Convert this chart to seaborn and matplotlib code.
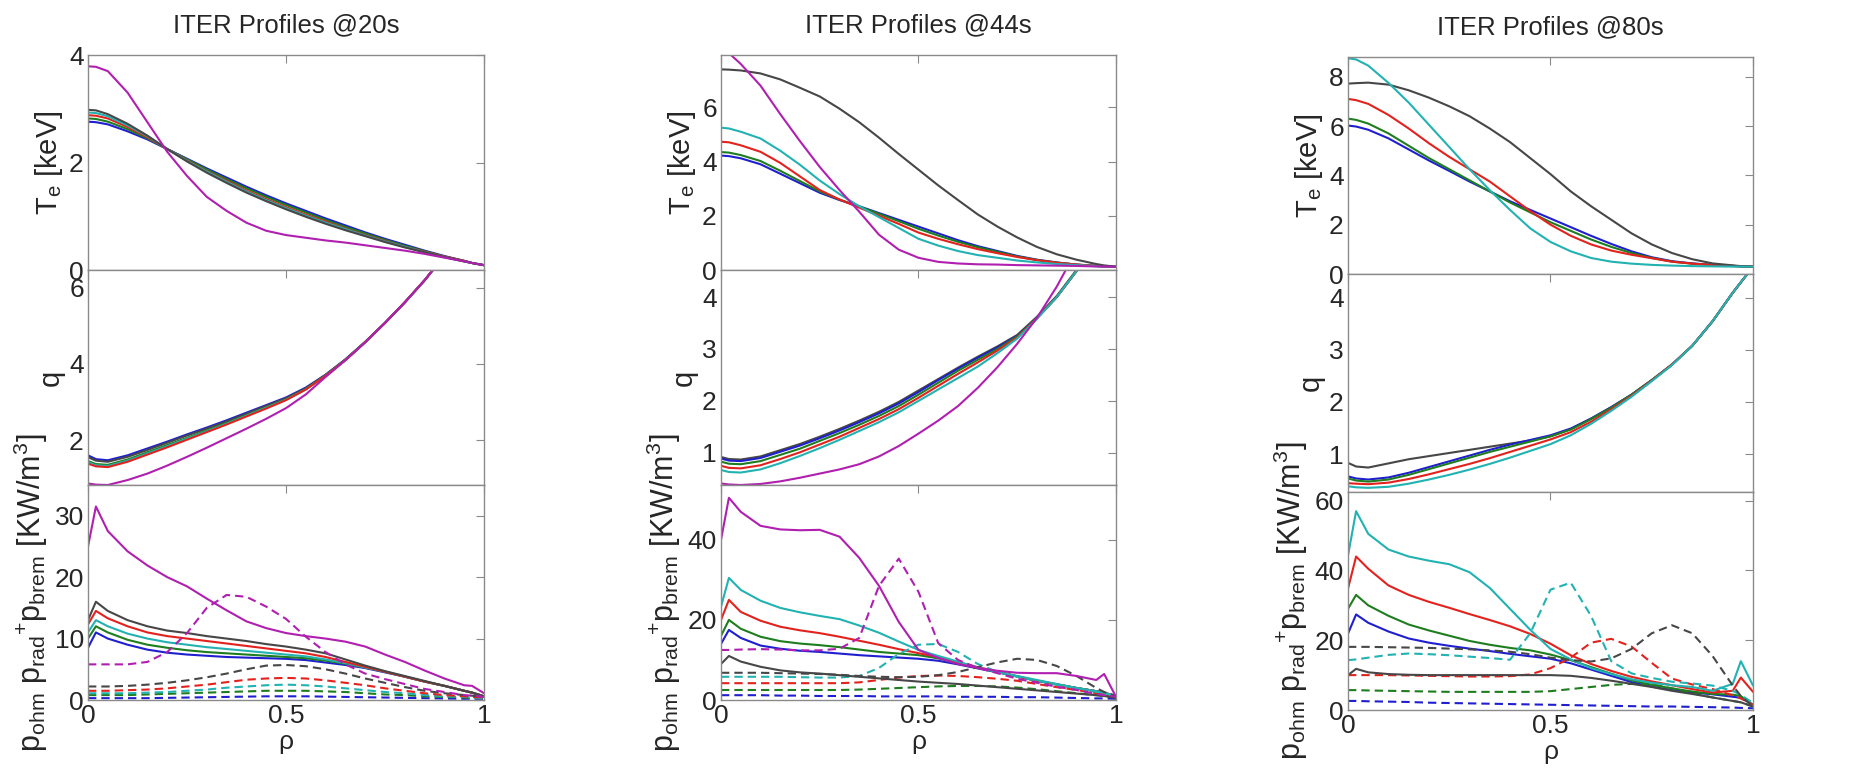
import matplotlib
matplotlib.use("Agg")
import matplotlib.pyplot as plt
import pandas as pd
import seaborn as sns

# ---------------- data ----------------
RHO = [0, 0.02, 0.05, 0.1, 0.15, 0.2, 0.25, 0.3, 0.35, 0.4, 0.45, 0.5,
       0.55, 0.6, 0.65, 0.7, 0.75, 0.8, 0.85, 0.9, 0.95, 0.97, 1.0]
TIMES = ["20s", "44s", "80s"]

# ---- 20 s ----
te_20 = {
    "blue":    [2.76, 2.75, 2.71, 2.58, 2.43, 2.25, 2.07, 1.89, 1.72, 1.55, 1.39, 1.24, 1.10, 0.96, 0.83, 0.70, 0.58, 0.47, 0.36, 0.26, 0.17, 0.13, 0.09],
    "green":   [2.82, 2.81, 2.76, 2.62, 2.45, 2.25, 2.06, 1.87, 1.69, 1.52, 1.36, 1.21, 1.07, 0.93, 0.80, 0.68, 0.56, 0.45, 0.35, 0.25, 0.17, 0.13, 0.09],
    "red":     [2.88, 2.87, 2.82, 2.66, 2.47, 2.25, 2.04, 1.84, 1.66, 1.48, 1.32, 1.17, 1.03, 0.90, 0.77, 0.65, 0.54, 0.43, 0.34, 0.25, 0.17, 0.13, 0.09],
    "cyan":    [2.93, 2.92, 2.86, 2.69, 2.49, 2.25, 2.03, 1.83, 1.64, 1.46, 1.30, 1.15, 1.01, 0.88, 0.76, 0.64, 0.53, 0.43, 0.33, 0.24, 0.16, 0.13, 0.09],
    "black":   [2.98, 2.97, 2.90, 2.72, 2.50, 2.25, 2.02, 1.81, 1.62, 1.44, 1.28, 1.13, 0.99, 0.86, 0.74, 0.63, 0.52, 0.42, 0.33, 0.24, 0.16, 0.13, 0.09],
    "magenta": [3.79, 3.78, 3.70, 3.30, 2.75, 2.20, 1.75, 1.36, 1.10, 0.88, 0.73, 0.65, 0.60, 0.55, 0.51, 0.46, 0.41, 0.36, 0.30, 0.23, 0.16, 0.13, 0.09],
}
q_20 = {
    "blue":    [1.60, 1.50, 1.47, 1.60, 1.78, 1.96, 2.15, 2.33, 2.52, 2.72, 2.92, 3.12, 3.38, 3.72, 4.12, 4.58, 5.08, 5.62, 6.20, 6.85, 7.60, 7.90, 8.40],
    "black":   [1.55, 1.46, 1.43, 1.56, 1.74, 1.93, 2.12, 2.30, 2.49, 2.69, 2.90, 3.10, 3.36, 3.71, 4.12, 4.58, 5.08, 5.62, 6.20, 6.85, 7.60, 7.90, 8.40],
    "green":   [1.45, 1.37, 1.35, 1.49, 1.68, 1.87, 2.06, 2.25, 2.45, 2.65, 2.86, 3.07, 3.34, 3.70, 4.11, 4.58, 5.08, 5.62, 6.20, 6.85, 7.60, 7.90, 8.40],
    "cyan":    [1.42, 1.34, 1.32, 1.46, 1.65, 1.84, 2.04, 2.23, 2.43, 2.64, 2.85, 3.06, 3.33, 3.69, 4.10, 4.57, 5.08, 5.62, 6.20, 6.85, 7.60, 7.90, 8.40],
    "red":     [1.38, 1.31, 1.29, 1.43, 1.62, 1.81, 2.01, 2.21, 2.41, 2.62, 2.83, 3.05, 3.33, 3.69, 4.10, 4.57, 5.08, 5.62, 6.20, 6.85, 7.60, 7.90, 8.40],
    "magenta": [0.86, 0.83, 0.82, 0.95, 1.12, 1.33, 1.56, 1.80, 2.05, 2.30, 2.56, 2.84, 3.20, 3.66, 4.10, 4.57, 5.08, 5.62, 6.20, 6.85, 7.60, 7.90, 8.40],
}
ps_20 = {  # solid: p_ohm
    "blue":    [8.5, 11.0, 10.0, 9.0, 8.2, 7.7, 7.4, 7.2, 7.0, 6.9, 6.8, 6.7, 6.5, 6.1, 5.7, 5.2, 4.5, 3.8, 3.0, 2.3, 1.5, 1.2, 0.6],
    "green":   [10.0, 12.0, 11.0, 9.8, 9.0, 8.5, 8.1, 7.8, 7.6, 7.4, 7.2, 7.0, 6.8, 6.4, 5.9, 5.3, 4.6, 3.8, 3.0, 2.3, 1.5, 1.2, 0.6],
    "cyan":    [11.0, 13.0, 12.0, 10.8, 10.0, 9.4, 9.0, 8.6, 8.3, 8.0, 7.7, 7.4, 7.1, 6.6, 6.0, 5.3, 4.6, 3.8, 3.0, 2.3, 1.5, 1.2, 0.6],
    "red":     [12.3, 14.5, 13.3, 12.0, 11.0, 10.4, 10.0, 9.6, 9.2, 8.8, 8.4, 8.0, 7.6, 7.0, 6.2, 5.4, 4.6, 3.8, 3.0, 2.3, 1.5, 1.2, 0.6],
    "black":   [13.0, 16.0, 14.5, 13.0, 12.0, 11.3, 10.9, 10.4, 10.0, 9.6, 9.1, 8.7, 8.2, 7.6, 6.6, 5.6, 4.7, 3.9, 3.1, 2.3, 1.5, 1.2, 0.6],
    "magenta": [25.0, 31.5, 27.5, 24.2, 21.9, 20.0, 18.5, 16.5, 14.6, 12.8, 11.7, 10.9, 10.4, 10.0, 9.5, 8.7, 7.4, 6.2, 4.8, 3.5, 2.4, 2.3, 1.1],
}
pd_20 = {  # dashed: p_rad + p_brem
    "blue":    [0.3, 0.3, 0.3, 0.3, 0.3, 0.35, 0.4, 0.45, 0.5, 0.55, 0.6, 0.6, 0.6, 0.55, 0.5, 0.45, 0.4, 0.35, 0.3, 0.25, 0.2, 0.2, 0.2],
    "green":   [0.8, 0.8, 0.8, 0.8, 0.9, 1.0, 1.1, 1.2, 1.3, 1.4, 1.5, 1.5, 1.5, 1.4, 1.3, 1.1, 0.9, 0.8, 0.6, 0.5, 0.4, 0.3, 0.3],
    "cyan":    [1.1, 1.1, 1.1, 1.1, 1.2, 1.3, 1.5, 1.7, 2.0, 2.2, 2.4, 2.5, 2.4, 2.2, 1.9, 1.6, 1.3, 1.1, 0.8, 0.6, 0.5, 0.4, 0.3],
    "red":     [1.5, 1.5, 1.5, 1.6, 1.7, 1.9, 2.2, 2.5, 2.9, 3.3, 3.5, 3.6, 3.5, 3.2, 2.8, 2.4, 1.9, 1.5, 1.1, 0.8, 0.6, 0.5, 0.4],
    "black":   [2.2, 2.2, 2.2, 2.3, 2.5, 2.8, 3.2, 3.7, 4.3, 5.0, 5.6, 5.7, 5.5, 5.0, 4.3, 3.5, 2.8, 2.1, 1.5, 1.1, 0.8, 0.7, 0.5],
    "magenta": [5.8, 5.8, 5.8, 5.8, 6.2, 7.8, 10.9, 15.0, 17.1, 16.8, 15.2, 13.2, 10.3, 7.8, 5.8, 4.3, 3.4, 2.6, 1.8, 1.3, 0.8, 0.7, 0.5],
}

# ---- 44 s ----
te_44 = {
    "blue":    [4.22, 4.20, 4.12, 3.90, 3.55, 3.20, 2.85, 2.58, 2.35, 2.10, 1.85, 1.60, 1.35, 1.10, 0.88, 0.70, 0.52, 0.38, 0.28, 0.20, 0.15, 0.13, 0.12],
    "green":   [4.35, 4.33, 4.24, 4.02, 3.66, 3.28, 2.90, 2.60, 2.34, 2.07, 1.80, 1.52, 1.27, 1.04, 0.84, 0.67, 0.50, 0.37, 0.27, 0.20, 0.15, 0.13, 0.12],
    "red":     [4.73, 4.71, 4.60, 4.36, 3.95, 3.45, 2.95, 2.60, 2.30, 2.00, 1.70, 1.38, 1.15, 0.95, 0.77, 0.62, 0.48, 0.36, 0.27, 0.20, 0.15, 0.13, 0.12],
    "cyan":    [5.25, 5.22, 5.10, 4.85, 4.40, 3.88, 3.30, 2.80, 2.35, 1.95, 1.55, 1.15, 0.90, 0.70, 0.55, 0.45, 0.35, 0.28, 0.22, 0.18, 0.14, 0.13, 0.12],
    "black":   [7.40, 7.39, 7.36, 7.25, 7.03, 6.72, 6.40, 5.95, 5.45, 4.88, 4.28, 3.70, 3.12, 2.58, 2.05, 1.60, 1.20, 0.85, 0.58, 0.38, 0.22, 0.17, 0.12],
    "magenta": [8.25, 8.00, 7.60, 6.80, 5.75, 4.75, 3.80, 2.95, 2.15, 1.30, 0.75, 0.45, 0.30, 0.24, 0.21, 0.20, 0.18, 0.17, 0.16, 0.15, 0.13, 0.13, 0.12],
}
q_44 = {
    "black":   [0.92, 0.88, 0.87, 0.93, 1.05, 1.17, 1.31, 1.46, 1.62, 1.79, 1.98, 2.20, 2.42, 2.64, 2.85, 3.05, 3.27, 3.62, 4.02, 4.52, 5.10, 5.40, 5.80],
    "blue":    [0.89, 0.85, 0.84, 0.90, 1.02, 1.14, 1.28, 1.43, 1.59, 1.76, 1.95, 2.17, 2.40, 2.62, 2.83, 3.03, 3.25, 3.60, 4.00, 4.50, 5.10, 5.40, 5.80],
    "green":   [0.83, 0.79, 0.78, 0.84, 0.96, 1.08, 1.23, 1.38, 1.54, 1.71, 1.90, 2.12, 2.35, 2.58, 2.79, 3.00, 3.24, 3.60, 4.00, 4.50, 5.10, 5.40, 5.80],
    "red":     [0.75, 0.71, 0.70, 0.76, 0.88, 1.01, 1.16, 1.31, 1.48, 1.65, 1.84, 2.06, 2.29, 2.52, 2.74, 2.97, 3.22, 3.59, 4.00, 4.50, 5.10, 5.40, 5.80],
    "cyan":    [0.67, 0.63, 0.62, 0.68, 0.80, 0.94, 1.09, 1.25, 1.42, 1.59, 1.78, 2.00, 2.22, 2.44, 2.66, 2.92, 3.20, 3.58, 4.00, 4.50, 5.10, 5.40, 5.80],
    "magenta": [0.41, 0.39, 0.38, 0.40, 0.45, 0.52, 0.60, 0.68, 0.78, 0.93, 1.13, 1.37, 1.62, 1.90, 2.25, 2.65, 3.10, 3.60, 4.20, 4.90, 5.60, 5.90, 6.30],
}
ps_44 = {
    "black":   [9.0, 11.0, 9.6, 8.3, 7.4, 6.9, 6.6, 6.2, 5.8, 5.4, 5.0, 4.6, 4.3, 4.0, 3.6, 3.2, 2.8, 2.4, 2.0, 1.6, 1.2, 1.0, 0.5],
    "blue":    [14.0, 17.5, 15.5, 13.6, 12.8, 12.3, 12.0, 11.6, 11.2, 10.9, 10.6, 10.3, 9.8, 8.9, 7.9, 6.9, 5.9, 4.8, 3.9, 3.0, 2.2, 1.8, 1.0],
    "green":   [16.0, 20.0, 17.8, 15.8, 14.7, 14.1, 13.7, 13.2, 12.6, 12.0, 11.6, 11.2, 10.4, 9.2, 8.0, 7.0, 5.9, 4.8, 3.9, 3.0, 2.2, 1.8, 1.0],
    "red":     [20.0, 25.0, 22.0, 19.8, 18.3, 17.4, 16.7, 15.8, 14.8, 13.8, 12.7, 11.7, 10.7, 9.4, 8.2, 7.1, 5.9, 4.8, 3.9, 3.0, 2.2, 1.8, 1.0],
    "cyan":    [23.3, 30.5, 27.5, 24.8, 23.0, 21.9, 21.0, 20.2, 18.6, 16.8, 14.6, 12.5, 11.0, 9.6, 8.1, 7.0, 6.0, 5.0, 4.0, 3.0, 2.2, 1.8, 1.0],
    "magenta": [40.0, 50.5, 47.0, 43.5, 42.6, 42.4, 42.5, 40.8, 35.5, 28.5, 19.5, 12.5, 10.5, 9.0, 8.0, 7.3, 6.8, 6.7, 6.7, 6.0, 5.0, 6.5, 0.8],
}
pd_44 = {
    "blue":    [1.2, 1.2, 1.2, 1.2, 1.1, 1.1, 1.0, 1.0, 1.0, 0.9, 0.9, 0.9, 0.9, 0.8, 0.8, 0.8, 0.7, 0.7, 0.6, 0.5, 0.4, 0.4, 0.3],
    "green":   [2.5, 2.5, 2.5, 2.5, 2.5, 2.5, 2.5, 2.5, 2.6, 2.8, 3.0, 3.2, 3.4, 3.5, 3.5, 3.4, 3.1, 2.7, 2.2, 1.7, 1.2, 1.0, 0.6],
    "red":     [4.2, 4.2, 4.2, 4.2, 4.2, 4.2, 4.2, 4.2, 4.4, 5.0, 5.6, 6.0, 6.1, 6.0, 5.7, 5.3, 4.8, 4.0, 3.2, 2.5, 1.7, 1.3, 0.8],
    "cyan":    [5.8, 5.8, 5.8, 5.8, 5.8, 5.7, 5.6, 5.6, 6.0, 8.0, 11.5, 13.8, 14.0, 12.0, 9.0, 7.0, 5.8, 4.8, 3.8, 3.0, 2.0, 1.6, 1.0],
    "black":   [6.8, 6.8, 6.8, 6.8, 6.7, 6.6, 6.5, 6.3, 6.0, 5.8, 5.7, 5.8, 6.2, 7.0, 8.2, 9.4, 10.3, 10.0, 8.5, 6.0, 3.0, 2.0, 1.0],
    "magenta": [12.5, 12.5, 12.6, 12.7, 12.6, 12.4, 12.4, 12.8, 15.5, 28.5, 35.3, 27.0, 14.2, 10.0, 8.0, 6.7, 5.3, 4.3, 3.3, 2.5, 1.5, 1.2, 0.8],
}

# ---- 80 s ----
te_80 = {
    "blue":    [6.02, 5.98, 5.85, 5.50, 5.05, 4.60, 4.18, 3.75, 3.35, 2.95, 2.60, 2.25, 1.90, 1.55, 1.22, 0.92, 0.68, 0.52, 0.43, 0.37, 0.33, 0.31, 0.30],
    "green":   [6.30, 6.25, 6.10, 5.70, 5.20, 4.70, 4.25, 3.80, 3.35, 2.90, 2.50, 2.10, 1.75, 1.40, 1.10, 0.85, 0.65, 0.50, 0.42, 0.36, 0.32, 0.31, 0.30],
    "red":     [7.10, 7.05, 6.90, 6.45, 5.90, 5.30, 4.75, 4.25, 3.75, 3.15, 2.55, 2.00, 1.55, 1.20, 0.95, 0.78, 0.64, 0.50, 0.42, 0.37, 0.33, 0.31, 0.30],
    "black":   [7.72, 7.74, 7.76, 7.68, 7.45, 7.15, 6.80, 6.40, 5.90, 5.35, 4.70, 4.05, 3.35, 2.75, 2.20, 1.65, 1.20, 0.85, 0.60, 0.43, 0.35, 0.32, 0.30],
    "cyan":    [8.75, 8.70, 8.45, 7.75, 6.95, 6.05, 5.15, 4.25, 3.40, 2.60, 1.85, 1.30, 0.92, 0.65, 0.50, 0.42, 0.37, 0.34, 0.32, 0.31, 0.30, 0.30, 0.30],
}
q_80 = {
    "black":   [0.83, 0.76, 0.74, 0.82, 0.90, 0.96, 1.02, 1.08, 1.14, 1.20, 1.26, 1.34, 1.48, 1.68, 1.90, 2.14, 2.42, 2.72, 3.08, 3.55, 4.10, 4.30, 4.60],
    "blue":    [0.57, 0.53, 0.51, 0.55, 0.64, 0.75, 0.86, 0.97, 1.08, 1.18, 1.27, 1.36, 1.49, 1.68, 1.90, 2.14, 2.42, 2.72, 3.08, 3.55, 4.10, 4.30, 4.60],
    "green":   [0.53, 0.49, 0.47, 0.51, 0.60, 0.71, 0.82, 0.93, 1.04, 1.14, 1.24, 1.34, 1.47, 1.67, 1.89, 2.14, 2.42, 2.72, 3.08, 3.55, 4.10, 4.30, 4.60],
    "red":     [0.44, 0.43, 0.42, 0.45, 0.52, 0.61, 0.71, 0.81, 0.92, 1.04, 1.16, 1.28, 1.42, 1.62, 1.86, 2.12, 2.41, 2.72, 3.08, 3.55, 4.10, 4.30, 4.60],
    "cyan":    [0.38, 0.36, 0.35, 0.37, 0.43, 0.51, 0.60, 0.70, 0.81, 0.93, 1.06, 1.19, 1.36, 1.58, 1.83, 2.10, 2.40, 2.71, 3.08, 3.55, 4.10, 4.30, 4.60],
}
ps_80 = {
    "black":   [10.0, 11.8, 10.8, 10.3, 10.1, 10.0, 10.0, 10.0, 10.0, 10.0, 10.0, 10.0, 9.8, 9.2, 8.4, 7.5, 6.6, 5.5, 4.6, 3.6, 2.6, 2.2, 1.0],
    "blue":    [21.9, 27.4, 25.0, 22.5, 20.5, 19.3, 18.4, 17.6, 16.9, 16.1, 15.4, 14.7, 13.4, 11.6, 9.8, 8.0, 6.7, 5.7, 5.0, 4.5, 3.8, 3.5, 1.5],
    "green":   [29.0, 33.0, 30.0, 27.0, 24.5, 22.8, 21.3, 19.8, 18.7, 17.8, 17.1, 15.9, 14.3, 12.3, 10.4, 8.5, 7.2, 6.2, 5.3, 4.6, 4.4, 4.0, 1.4],
    "red":     [34.8, 44.0, 40.5, 35.7, 33.0, 31.0, 29.3, 27.5, 25.8, 24.0, 21.8, 19.0, 15.7, 13.2, 11.2, 9.5, 8.2, 7.1, 6.0, 5.0, 5.5, 9.3, 5.2],
    "cyan":    [44.3, 57.0, 50.5, 46.0, 44.0, 42.8, 41.8, 39.5, 35.0, 29.0, 23.0, 17.5, 14.5, 12.0, 10.3, 8.8, 7.8, 7.1, 6.6, 5.5, 7.5, 14.0, 7.0],
}
pd_80 = {
    "blue":    [2.6, 2.6, 2.5, 2.4, 2.3, 2.1, 2.0, 1.9, 1.8, 1.7, 1.6, 1.5, 1.4, 1.3, 1.2, 1.1, 1.0, 1.0, 0.9, 0.8, 0.7, 0.6, 0.5],
    "green":   [5.7, 5.7, 5.6, 5.5, 5.4, 5.3, 5.2, 5.2, 5.2, 5.2, 5.2, 5.4, 6.0, 6.6, 7.2, 7.5, 7.4, 6.2, 4.8, 3.6, 2.6, 2.2, 1.0],
    "red":     [10.0, 10.0, 10.0, 10.0, 9.9, 9.8, 9.7, 9.6, 9.6, 9.7, 10.2, 12.0, 15.0, 19.3, 20.4, 18.2, 13.5, 9.0, 7.3, 6.0, 4.2, 3.3, 1.5],
    "cyan":    [14.3, 14.5, 15.0, 15.8, 16.2, 16.0, 15.7, 15.3, 14.9, 14.4, 22.0, 34.5, 36.5, 27.0, 14.0, 10.5, 9.2, 8.1, 7.6, 7.0, 5.5, 4.3, 2.0],
    "black":   [18.1, 18.1, 18.1, 18.0, 17.9, 17.8, 17.6, 17.4, 17.1, 16.7, 16.0, 15.0, 14.3, 13.9, 14.8, 17.5, 22.0, 24.3, 22.0, 15.5, 7.0, 4.0, 1.0],
}

# ---------------- styling ----------------
PALETTE = {"blue": "#1f1fd0", "green": "#1e7d1e", "red": "#e3221d",
           "cyan": "#22b2b2", "magenta": "#b01fb0", "black": "#474747"}
DASHES = {"solid": "", "dashed": (4, 2.4)}

sns.set_style("white")
plt.rcParams["font.family"] = ["Liberation Sans", "DejaVu Sans"]
plt.rcParams["mathtext.fontset"] = "custom"
plt.rcParams["mathtext.rm"] = "Liberation Sans"
plt.rcParams["mathtext.it"] = "Liberation Sans:italic"
plt.rcParams["mathtext.bf"] = "Liberation Sans:bold"

# build long table
rows = []
sets = {"20s": (te_20, q_20, ps_20, pd_20),
        "44s": (te_44, q_44, ps_44, pd_44),
        "80s": (te_80, q_80, ps_80, pd_80)}
for t, (te, q, ps, pdd) in sets.items():
    for panel, dct, kind in (("te", te, "solid"), ("q", q, "solid"),
                             ("p", pdd, "dashed"), ("p", ps, "solid")):
        for color, vals in dct.items():
            rows.append(pd.DataFrame({"rho": RHO, "value": vals, "series": color,
                                      "kind": kind, "panel": panel, "time": t}))
df = pd.concat(rows, ignore_index=True)

fig = plt.figure(figsize=(18.74, 7.83), dpi=100)
W, H = 1874.0, 783.0

# pixel layout per column: left, right, and row boundaries (top..bottom)
COLS = {
    "20s": dict(l=88, r=484, rows=[55, 270, 485, 700]),
    "44s": dict(l=721, r=1116, rows=[55, 270, 485, 700]),
    "80s": dict(l=1348, r=1753, rows=[57, 274, 492, 710]),
}
YLIMS = {
    "20s": {"te": ((0, 4), [0, 2, 4]), "q": ((0.82, 6.47), [2, 4, 6]), "p": ((0, 35), [0, 10, 20, 30])},
    "44s": {"te": ((0, 7.93), [0, 2, 4, 6]), "q": ((0.38, 4.52), [1, 2, 3, 4]), "p": ((0, 53.7), [0, 20, 40])},
    "80s": {"te": ((0, 8.8), [0, 2, 4, 6, 8]), "q": ((0.27, 4.46), [1, 2, 3, 4]), "p": ((0, 62.5), [0, 20, 40, 60])},
}
YLABELS = {"te": r"T$_{\mathrm{e}}$ [keV]", "q": "q",
           "p": r"$\mathrm{p_{ohm}\ p_{rad}{}^{+}p_{brem}\ [KW/m^{3}]}$"}
YLSIZE = {"te": 21, "q": 21, "p": 22}
FRAME = "#8a8a8a"

for t in TIMES:
    c = COLS[t]
    for i, panel in enumerate(["te", "q", "p"]):
        top, bot = c["rows"][i], c["rows"][i + 1]
        ax = fig.add_axes([c["l"] / W, 1 - bot / H, (c["r"] - c["l"]) / W, (bot - top) / H])
        sub = df[(df["time"] == t) & (df["panel"] == panel)]
        sns.lineplot(data=sub, x="rho", y="value", hue="series", style="kind",
                     palette=PALETTE, dashes=DASHES, estimator=None,
                     sort=False, legend=False, linewidth=1.5, ax=ax)
        (ylo, yhi), yt = YLIMS[t][panel]
        ax.set_xlim(0, 1)
        ax.set_ylim(ylo, yhi)
        ax.set_xticks([0, 0.5, 1])
        ax.set_yticks(yt)
        ax.set_yticklabels([str(v) for v in yt])
        ax.tick_params(direction="in", length=6, width=0.8, color=FRAME,
                       top=True, right=True, labelsize=19, pad=3)
        for s in ax.spines.values():
            s.set_color(FRAME)
            s.set_linewidth(1.0)
        ax.set_ylabel(YLABELS[panel], fontsize=YLSIZE[panel], labelpad=3)
        if panel == "p":
            ax.set_xticklabels(["0", "0.5", "1"])
            ax.set_xlabel("ρ", fontsize=19, labelpad=1)
        else:
            ax.set_xticklabels([])
            ax.set_xlabel("")
        if panel == "te":
            ax.set_title(f"ITER Profiles @{t}", fontsize=18.5, pad=16)

fig.savefig("out.png", dpi=100)
